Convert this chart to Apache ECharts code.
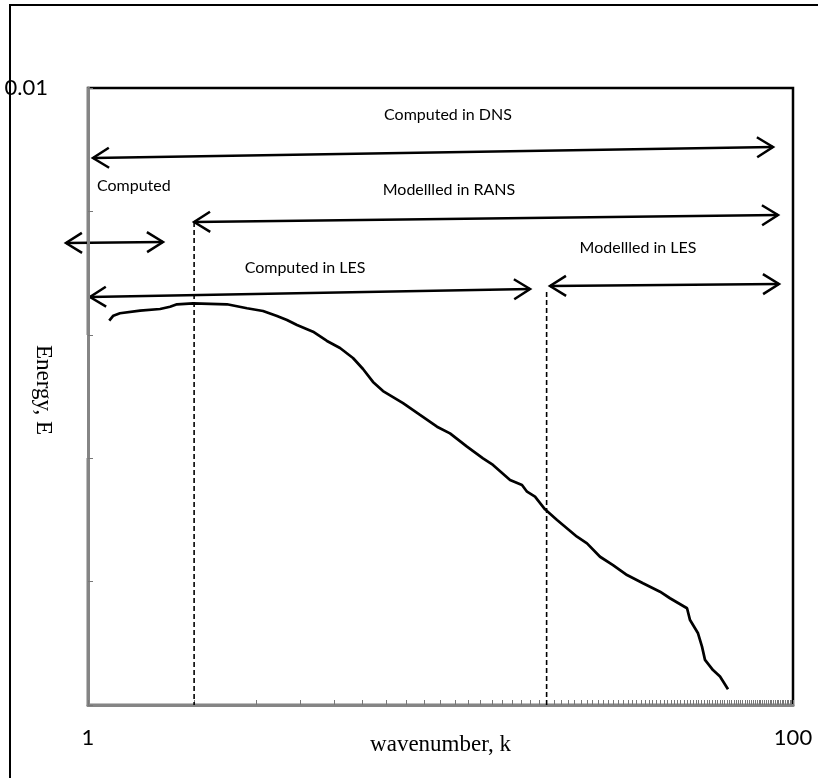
<!DOCTYPE html>
<html>
<head>
<meta charset="utf-8">
<script src="https://cdn.jsdelivr.net/npm/echarts@6/dist/echarts.min.js"></script>
<style>
  html, body { margin: 0; padding: 0; background: #fff; }
  #chart { width: 818px; height: 778px; }
</style>
</head>
<body>
<div id="chart"></div>
<script>
// Turbulent energy spectrum E(k) against wavenumber k
const wavenumber = [
  1.149, 1.180, 1.232, 1.405, 1.601, 1.709, 1.788, 1.986, 2.479, 2.825,
  3.137, 3.437, 3.668, 3.916, 4.349, 4.764, 5.187, 5.646, 6.028, 6.434,
  6.870, 7.334, 7.829, 8.747, 9.774, 10.64, 11.89, 13.20, 14.09, 15.75,
  17.03, 17.60, 18.54, 19.79, 21.41, 24.39, 26.04, 28.35, 30.86, 33.82,
  37.54, 41.95, 44.78, 50.05, 51.04, 53.77, 55.19, 56.28, 59.30, 62.08,
  65.41
];
const energy = [
  1.301e-4, 1.428e-4, 1.494e-4, 1.568e-4, 1.619e-4, 1.689e-4, 1.767e-4, 1.800e-4, 1.767e-4, 1.640e-4,
  1.559e-4, 1.420e-4, 1.318e-4, 1.200e-4, 1.060e-4, 8.91e-5, 7.82e-5, 6.49e-5, 5.28e-5, 4.15e-5,
  3.50e-5, 3.13e-5, 2.79e-5, 2.24e-5, 1.80e-5, 1.59e-5, 1.24e-5, 9.98e-6, 8.81e-6, 6.66e-6,
  6.07e-6, 5.35e-6, 4.88e-6, 3.85e-6, 3.16e-6, 2.31e-6, 2.04e-6, 1.59e-6, 1.36e-6, 1.13e-6,
  9.69e-7, 8.28e-7, 7.33e-7, 6.08e-7, 4.88e-7, 3.81e-7, 2.97e-7, 2.32e-7, 1.92e-7, 1.70e-7,
  1.34e-7
];

// Axis ranges
const kMin = 1, kMax = 100;
const eMin = 1e-7, eMax = 1e-2;
const xLabelValues = [1, 100];
const yLabelValues = [0.01];
// Minor tick marks at every integer wavenumber
const xTickValues = [];
for (let k = kMin; k <= kMax; k++) xTickValues.push(k);
const yTickValues = [1e-7, 1e-6, 1e-5, 1e-4, 1e-3, 1e-2];

// Cut-off wavenumbers (dashed guides): k, energy at the top end of the guide
const cutoffK = [2, 20];
const cutoffTopE = [8.2e-4, 2.22e-4];

// Range arrows, in (k, E)
const arrowStart = [[1.033, 2.709e-3], [0.866, 5.545e-4], [2.0, 8.205e-4], [1.013, 2.025e-4], [20.45, 2.486e-4]];
const arrowEnd   = [[87.77, 3.325e-3], [1.632, 5.649e-4], [90.68, 9.350e-4], [17.95, 2.350e-4], [91.26, 2.580e-4]];

// Range captions, in (k, E)
const captionText = ['Computed in DNS', 'Computed', 'Modellled in RANS', 'Computed in LES', 'Modellled in LES'];
const captionPos  = [[10.50, 6.04e-3], [1.060, 1.606e-3], [10.57, 1.491e-3], [4.128, 3.478e-4], [36.34, 5.049e-4]];
const captionAlign = ['center', 'left', 'center', 'center', 'center'];

const chart = echarts.init(document.getElementById('chart'));
const AXIS_GREY = '#858585';
const SANS = 'Lato, "Open Sans", sans-serif';
const SERIF = '"Liberation Serif", "DejaVu Serif", serif';

const isNear = (v, list) => list.some(t => Math.abs(Math.log10(v) - Math.log10(t)) < 1e-6);

const cutoffSeries = cutoffK.map((k, i) => ({
  type: 'line',
  data: [[k, cutoffTopE[i]], [k, eMin]],
  symbol: 'none',
  silent: true,
  lineStyle: { color: '#000', width: 1.6, type: [5, 3] },
  z: 3
}));

chart.setOption({
  animation: false,
  backgroundColor: '#fff',
  grid: {
    left: 88, right: 25, top: 88, bottom: 73,
    containLabel: false, outerBoundsMode: 'none',
    show: true, borderColor: '#000', borderWidth: 2.5, backgroundColor: 'transparent'
  },
  xAxis: {
    type: 'log', logBase: 10, min: kMin, max: kMax,
    name: 'wavenumber, k', nameLocation: 'middle', nameGap: 28, nameMoveOverlap: false,
    nameTextStyle: { fontFamily: SERIF, fontSize: 23, color: '#000' },
    axisLine: { lineStyle: { color: AXIS_GREY, width: 3 } },
    axisTick: { show: true, inside: true, length: 5, customValues: xTickValues, lineStyle: { color: '#777', width: 1 } },
    axisLabel: {
      margin: 22, fontFamily: SANS, fontSize: 22, color: '#000',
      customValues: xLabelValues,
      formatter: v => (isNear(v, xLabelValues) ? String(Math.round(v)) : '')
    },
    splitLine: { show: false }, minorTick: { show: false }
  },
  yAxis: {
    type: 'log', logBase: 10, min: eMin, max: eMax,
    name: 'Energy, E', nameLocation: 'middle', nameRotate: -90, nameGap: 0, nameMoveOverlap: false,
    nameTextStyle: {
      fontFamily: SERIF, fontSize: 23, color: '#000',
      backgroundColor: '#fff', padding: [33, 23, 4, 10]
    },
    axisLine: { lineStyle: { color: AXIS_GREY, width: 3 } },
    axisTick: { show: true, inside: true, length: 5, customValues: yTickValues, lineStyle: { color: '#777', width: 1 } },
    axisLabel: {
      margin: 40, fontFamily: SANS, fontSize: 22, color: '#000',
      customValues: yLabelValues,
      formatter: v => (isNear(v, yLabelValues) ? '0.01' : '')
    },
    splitLine: { show: false }, minorTick: { show: false }
  },
  series: [
    {
      type: 'line',
      data: wavenumber.map((k, i) => [k, energy[i]]),
      symbol: 'none',
      smooth: false,
      lineStyle: { color: '#000', width: 2.7 },
      z: 4
    },
    ...cutoffSeries
  ]
});

// Double-headed open arrows and captions, placed from data coordinates
function arrowElements(p0, p1) {
  const dx = p1[0] - p0[0], dy = p1[1] - p0[1];
  const len = Math.hypot(dx, dy);
  const ux = dx / len, uy = dy / len, nx = -uy, ny = ux;
  const L = 16, W = 10;
  const head = (tip, dir) => [
    [tip[0] - dir * ux * L + nx * W, tip[1] - dir * uy * L + ny * W],
    tip,
    [tip[0] - dir * ux * L - nx * W, tip[1] - dir * uy * L - ny * W]
  ];
  const style = { stroke: '#000', lineWidth: 2.5, fill: null, lineJoin: 'miter' };
  return [
    { type: 'polyline', shape: { points: [p0, p1] }, style },
    { type: 'polyline', shape: { points: head(p1, 1) }, style },
    { type: 'polyline', shape: { points: head(p0, -1) }, style }
  ];
}

const toPx = v => chart.convertToPixel({ gridIndex: 0 }, v);
const graphics = [
  { type: 'rect', shape: { x: 10, y: 5, width: 830, height: 800 }, style: { stroke: '#000', lineWidth: 2, fill: null }, silent: true }
];
arrowStart.forEach((s, i) => graphics.push(...arrowElements(toPx(s), toPx(arrowEnd[i]))));
captionText.forEach((t, i) => {
  const p = toPx(captionPos[i]);
  graphics.push({
    type: 'text', x: p[0], y: p[1],
    style: { text: t, fontFamily: SANS, fontSize: 16, fill: '#000', align: captionAlign[i], verticalAlign: 'middle' }
  });
});
chart.setOption({ graphic: graphics });
</script>
</body>
</html>
